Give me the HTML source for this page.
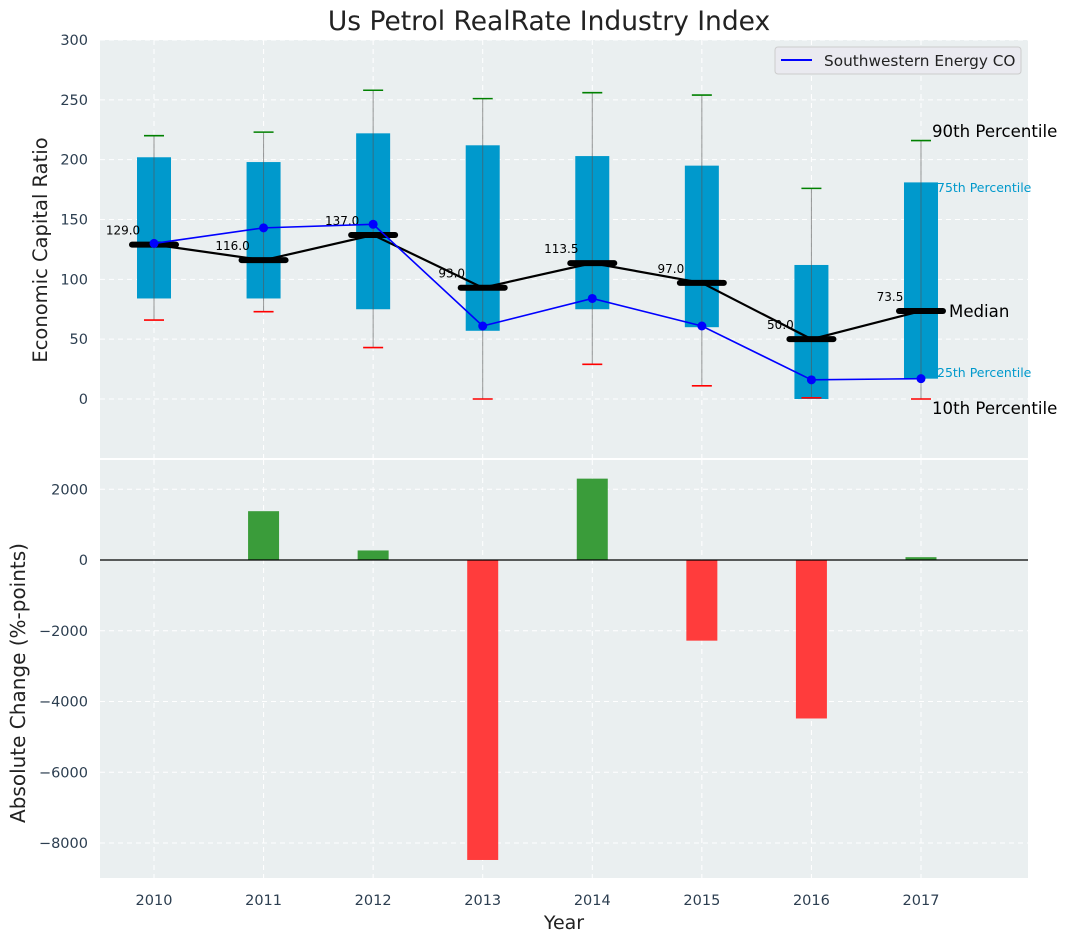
<!DOCTYPE html>
<html><head><meta charset="utf-8"><style>
body{margin:0;background:#fff;font-family:"DejaVu Sans","Liberation Sans",sans-serif}
svg text{font-family:"DejaVu Sans","Liberation Sans",sans-serif}
</style></head><body>
<svg id="chart" width="1067" height="942" xmlns="http://www.w3.org/2000/svg">
<rect x="0" y="0" width="1067" height="942" fill="#fff"/>
<text x="549" y="30" text-anchor="middle" font-size="26.5" fill="#222">Us Petrol RealRate Industry Index</text>
<rect x="100" y="40" width="928" height="418" fill="#eaeff0"/>
<rect x="100" y="460" width="928" height="418" fill="#eaeff0"/>
<g id="grid"></g>
<g id="marks"></g>
<text transform="translate(47,250) rotate(-90)" text-anchor="middle" font-size="19.5" fill="#222">Economic Capital Ratio</text>
<text transform="translate(25,683) rotate(-90)" text-anchor="middle" font-size="20" fill="#222">Absolute Change (%-points)</text>
<text x="564" y="929" text-anchor="middle" font-size="19" fill="#222">Year</text>
<g>
<rect x="775" y="47" width="246" height="27" rx="3" fill="#eaeaf0" stroke="#ccc"/>
<line x1="781" y1="60" x2="812" y2="60" stroke="#0000ff" stroke-width="2"/>
<text x="824" y="66" font-size="15.3" fill="#222">Southwestern Energy CO</text>
</g>
<text x="932" y="137" font-size="16.6" fill="#000">90th Percentile</text>
<text x="937" y="192" font-size="12.5" fill="#0099cc">75th Percentile</text>
<text x="949" y="317" font-size="16.6" fill="#000">Median</text>
<text x="937" y="377" font-size="12.5" fill="#0099cc">25th Percentile</text>
<text x="932" y="414" font-size="16.6" fill="#000">10th Percentile</text>
</svg>
<script>
const years=[2010,2011,2012,2013,2014,2015,2016,2017];
const p10=[66,73,43,0,29,11,1,0];
const p25=[84,84,75,57,75,60,0,17];
const medians=[129,116,137,93,113.5,97,50,73.5];
const p75=[202,198,222,212,203,195,112,181];
const p90=[220,223,258,251,256,254,176,216];
const swn=[130,143,146,61,84,61,16,17];
const changes=[0,1380,270,-8480,2300,-2280,-4480,80];
const topTicks=[0,50,100,150,200,250,300];
const botTicks=[2000,0,-2000,-4000,-6000,-8000];
const NS="http://www.w3.org/2000/svg";
const x=v=>154+(v-2010)*109.57;
const yT=v=>399-v*1.1967;
const yB=v=>560-v*0.035375;
function el(p,t,a){const e=document.createElementNS(NS,t);for(const k in a)e.setAttribute(k,a[k]);p.appendChild(e);return e;}
const g=document.getElementById('grid'),m=document.getElementById('marks'),svg=document.getElementById('chart');
topTicks.forEach(t=>{const l=el(g,'line',{x1:100,x2:1028,y1:yT(t),y2:yT(t),stroke:'#fff','stroke-dasharray':'5,4'});

const tx=el(svg,'text',{x:88,y:yT(t)+5,'text-anchor':'end','font-size':14.5,fill:'#2c3e50'});tx.textContent=t;
});
botTicks.forEach(t=>{const l=el(g,'line',{x1:100,x2:1028,y1:yB(t),y2:yB(t),stroke:'#fff','stroke-dasharray':'5,4'});

const tx=el(svg,'text',{x:88,y:yB(t)+5,'text-anchor':'end','font-size':14.5,fill:'#2c3e50'});tx.textContent=(t<0?'\u2212'+(-t):t);
});
years.forEach((yr,i)=>{
 [[40,458],[460,878]].forEach(r=>{const l=el(g,'line',{x1:x(yr),x2:x(yr),y1:r[0],y2:r[1],stroke:'#fff','stroke-dasharray':'5,4'});
 });
 const tx=el(svg,'text',{x:x(yr),y:905,'text-anchor':'middle','font-size':14.5,fill:'#2c3e50'});tx.textContent=yr;
 
});
years.forEach((yr,i)=>{
 const b=el(m,'rect',{x:x(yr)-17,y:yT(p75[i]),width:34,height:yT(p25[i])-yT(p75[i]),fill:'#0099cc'});
 
 const w=el(m,'line',{x1:x(yr),x2:x(yr),y1:yT(p90[i]),y2:yT(p10[i]),stroke:'#555','stroke-opacity':0.6,'stroke-width':1});
 
 const c1=el(m,'line',{x1:x(yr)-10,x2:x(yr)+10,y1:yT(p90[i]),y2:yT(p90[i]),stroke:'green','stroke-width':1.6});
 
 const c2=el(m,'line',{x1:x(yr)-10,x2:x(yr)+10,y1:yT(p10[i]),y2:yT(p10[i]),stroke:'red','stroke-width':1.6});
 
 const v=changes[i];
 const bar=el(m,'rect',{x:x(yr)-15.5,y:Math.min(yB(v),yB(0)),width:31,height:Math.abs(yB(v)-yB(0)),fill:v>=0?'#3a9c3a':'#ff3c3c'});
 
});
const ml=el(m,'polyline',{points:years.map((yr,i)=>x(yr)+','+yT(medians[i])).join(' '),fill:'none',stroke:'#000','stroke-width':2.2});

years.forEach((yr,i)=>{
 const l=el(m,'line',{x1:x(yr)-22,x2:x(yr)+22,y1:yT(medians[i]),y2:yT(medians[i]),stroke:'#000','stroke-width':6,'stroke-linecap':'round'});
 
 const t=el(m,'text',{x:x(yr)-31,y:yT(medians[i])-10,'text-anchor':'middle','font-size':12,fill:'#000'});t.textContent=medians[i].toFixed(1);
 
});
const bl=el(m,'polyline',{points:years.map((yr,i)=>x(yr)+','+yT(swn[i])).join(' '),fill:'none',stroke:'#0000ff','stroke-width':1.6});

years.forEach((yr,i)=>{const c=el(m,'circle',{cx:x(yr),cy:yT(swn[i]),r:4.5,fill:'#0000ff'});
 });
const z=el(m,'line',{x1:100,x2:1028,y1:yB(0),y2:yB(0),stroke:'#000','stroke-width':1.2});

</script>
</body></html>
